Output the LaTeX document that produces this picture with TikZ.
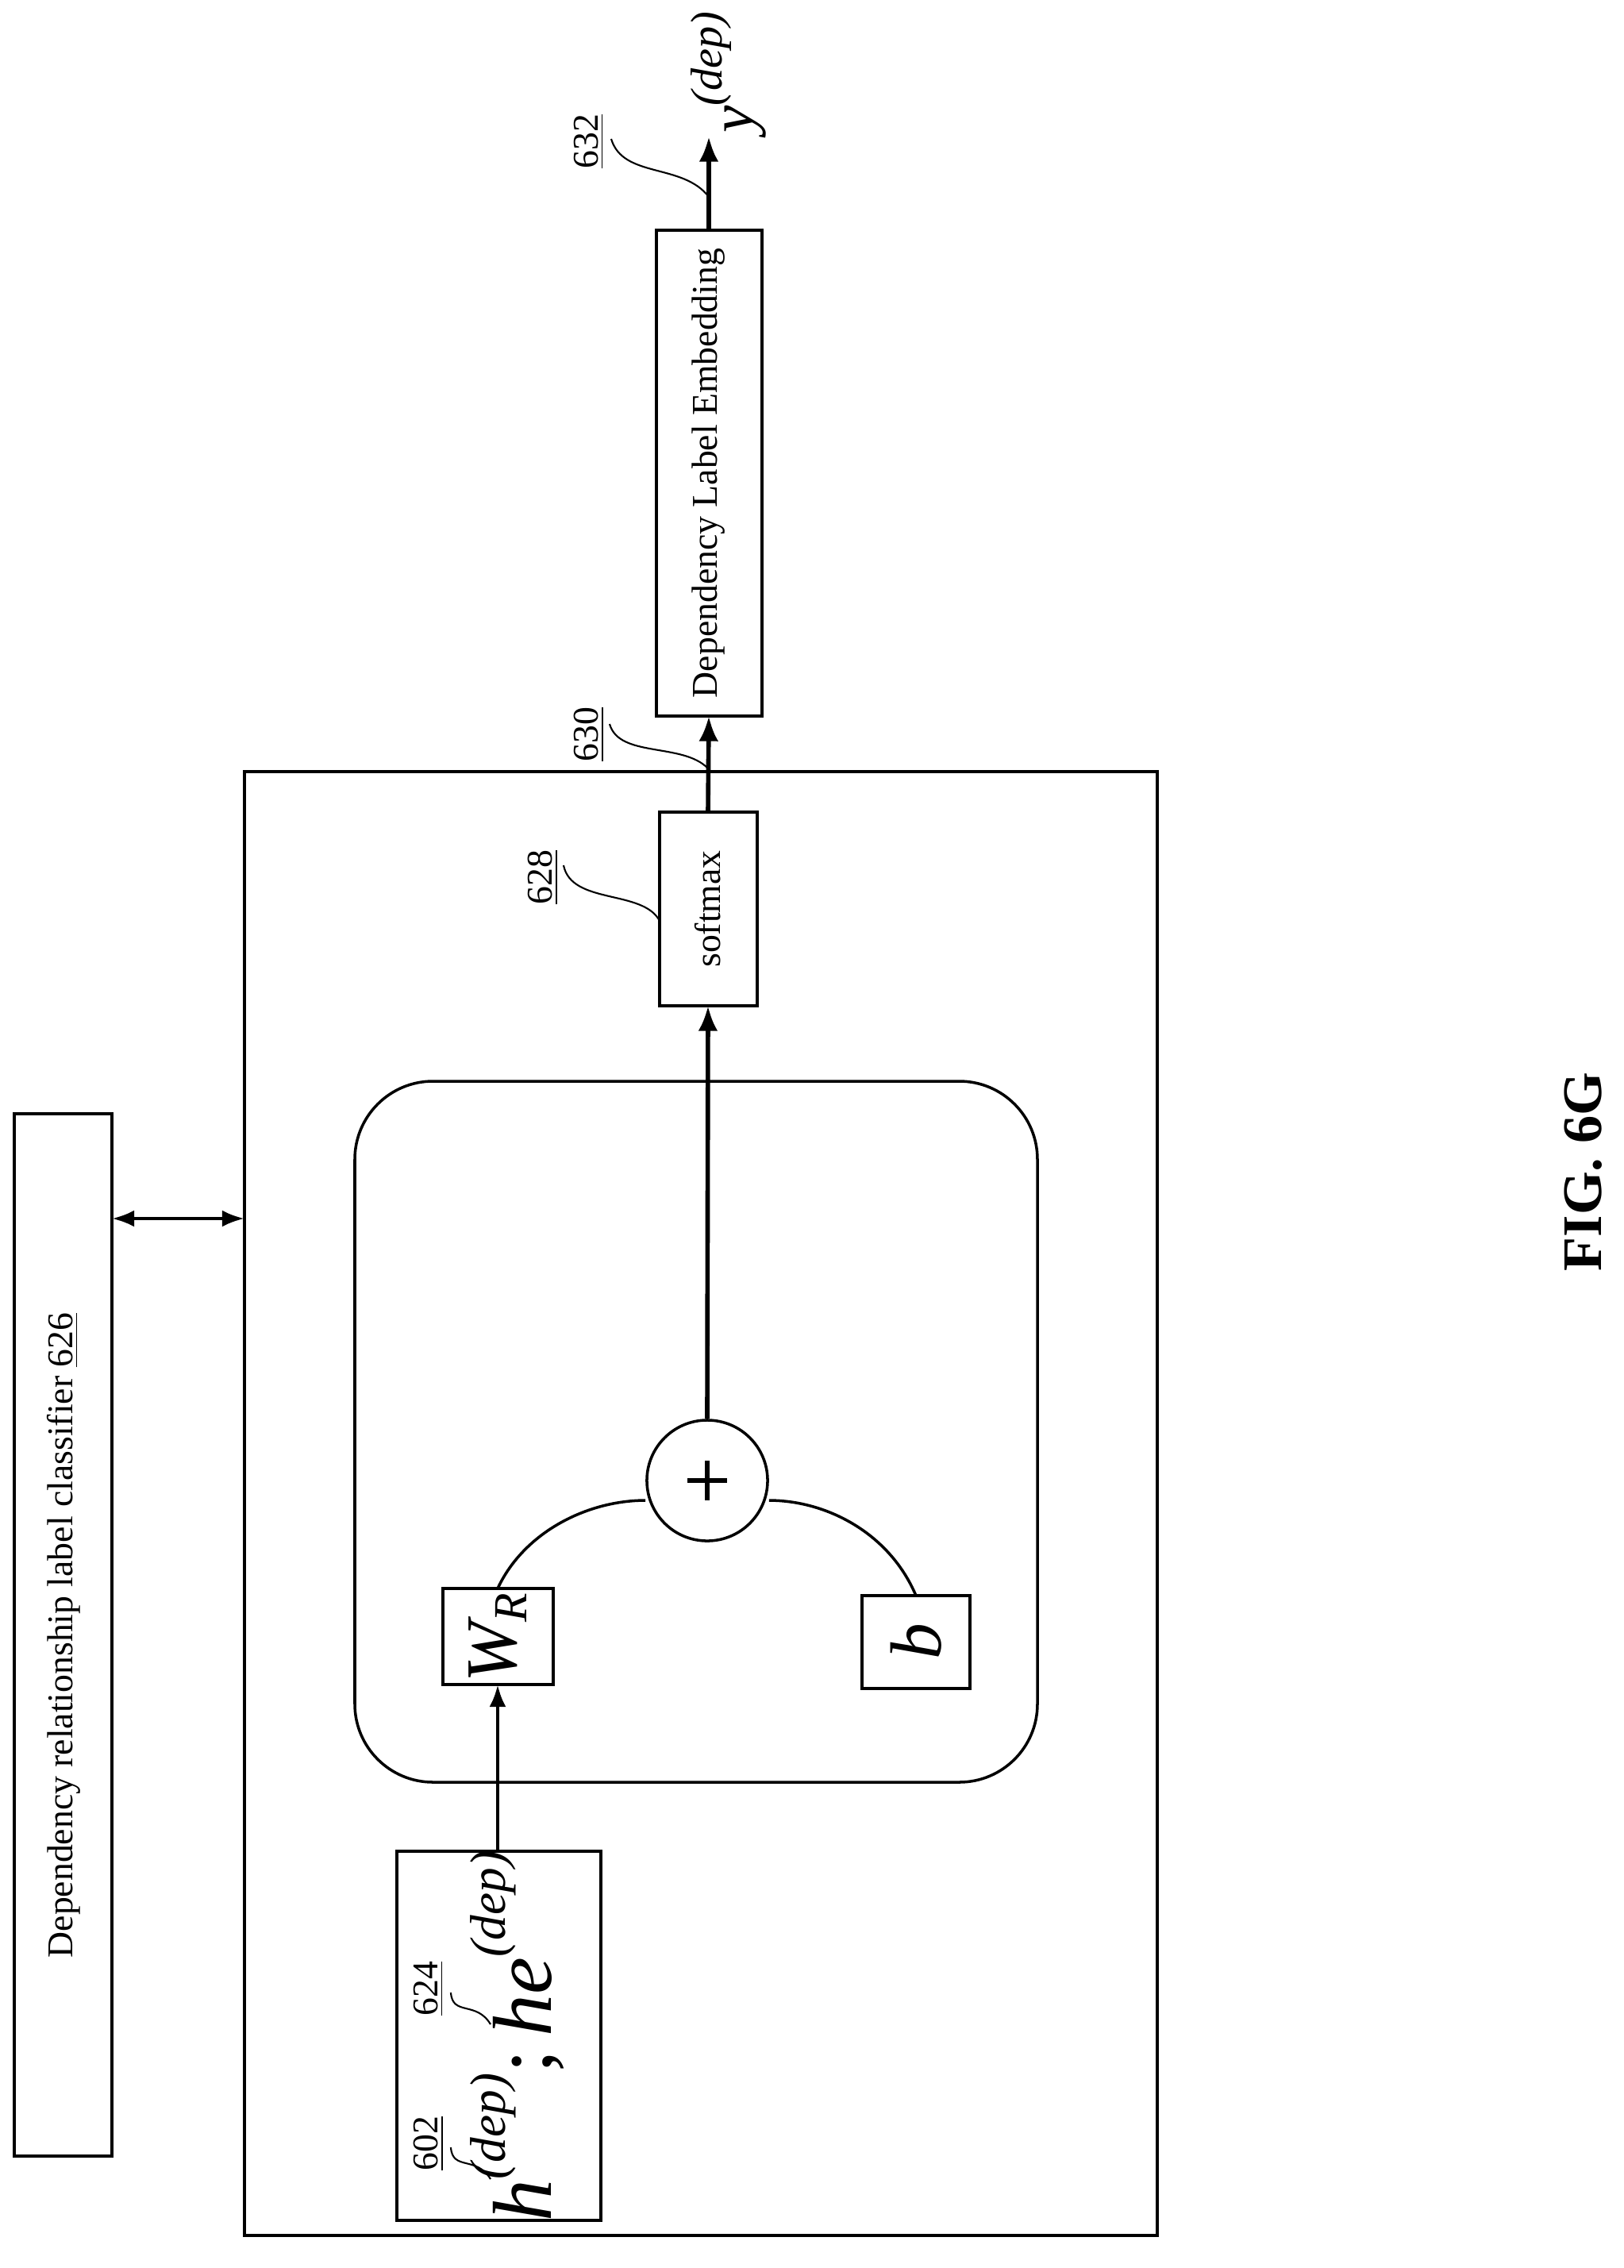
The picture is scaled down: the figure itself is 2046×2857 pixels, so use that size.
\documentclass[tikz,border=0pt]{standalone}
\usepackage{fontspec}
\setmainfont{Liberation Serif}
\usetikzlibrary{arrows.meta}
\newcommand{\mysup}[1]{\raisebox{0.55em}{\fontsize{18}{20}\selectfont\itshape #1}}
\begin{document}
\begin{tikzpicture}[x=0.01cm,y=-0.01cm,
  box/.style={draw,line width=1pt},
  lbl/.style={rotate=90,font=\fontsize{13}{15}\selectfont},
  ref/.style={rotate=90,font=\fontsize{13}{15}\selectfont},
  lead/.style={line width=0.6pt},
  flow/.style={line width=1.6pt,-{Latex[length=9pt,width=7pt]}}]
\useasboundingbox (0,0) rectangle (2046,2857);
% classifier
\draw[box] (18,1403) rectangle (141,2716);
\node[lbl] (cls) at (80,2060) {Dependency relationship label classifier \underline{626}};
\coordinate (clsR) at (141,1535);
% outer box
\draw[box] (308,972) rectangle (1458,2816);
\coordinate (outL) at (308,1535);
\draw[line width=1.3pt,{Latex[length=8pt,width=6pt]}-{Latex[length=8pt,width=6pt]}] (clsR) -- (outL);
% inner rounded box
\draw[box,rounded corners=28] (447,1362) rectangle (1307,2245);
% input box
\draw[box] (500,2332) rectangle (757,2797);
\node[rotate=90,font=\fontsize{30}{32}\itshape] (in) at (652,2565) {h\mysup{(dep)}\upshape;\,\itshape he\mysup{(dep)}};
\node[ref] at (540,2700) {\underline{602}};
\node[ref] at (540,2505) {\underline{624}};
\draw[lead] (568,2705) .. controls (570,2735) and (600,2715) .. (618,2745);
\draw[lead] (568,2510) .. controls (570,2540) and (600,2520) .. (618,2550);
% W_R and b
\draw[box] (558,2001) rectangle (697,2122);
\node[rotate=90,font=\fontsize{26}{28}\selectfont] (W) at (627,2062) {\itshape W\textsubscript{\fontsize{17}{18}\selectfont R}};
\draw[box] (1086,2010) rectangle (1222,2127);
\node[rotate=90,font=\fontsize{26}{28}\itshape] (b) at (1154,2068) {b};
\coordinate (Wt) at (627,2001);
\coordinate (bt) at (1154,2010);
\coordinate (Wb) at (627,2122);
\coordinate (inT) at (627,2332);
\draw[line width=1.4pt,-{Latex[length=8pt,width=6pt]}] (inT) -- (Wb);
% plus circle
\node[draw,circle,line width=1pt,minimum size=1.52cm,inner sep=0] (plus) at (891,1865) {};
\draw[line width=1.5pt] (866,1865) -- (916,1865) (891,1840) -- (891,1890);
\draw[line width=1pt] (Wt) .. controls (660,1930) and (740,1890) .. ([yshift=-0.25cm]plus.west);
\draw[line width=1pt] (bt) .. controls (1120,1930) and (1040,1890) .. ([yshift=-0.25cm]plus.east);
% softmax
\draw[box] (831,1023) rectangle (954,1267);
\node[lbl] (sm) at (892,1145) {softmax};
\coordinate (smB) at (892,1267);
\coordinate (smT) at (892,1023);
\draw[flow] (plus.north) -- (smB);
% DLE
\draw[box] (827,290) rectangle (960,902);
\node[lbl] (dle) at (893,596) {Dependency Label Embedding};
\coordinate (dleB) at (893,902);
\coordinate (dleT) at (893,290);
\draw[flow] (smT) -- (dleB);
\coordinate (y) at (893,172);
\draw[flow] (dleT) -- (y);
\node[rotate=90,font=\fontsize{22}{24}\itshape,anchor=west] at (918,180) {y\raisebox{0.5em}{\fontsize{16}{18}\selectfont(dep)}};
% refs
\node[ref] at (742,178) {\underline{632}};
\draw[lead] (770,175) .. controls (785,225) and (860,205) .. (893,248);
\node[ref] at (742,925) {\underline{630}};
\draw[lead] (768,912) .. controls (780,955) and (860,935) .. (892,968);
\node[ref] at (684,1105) {\underline{628}};
\draw[lead] (710,1090) .. controls (720,1140) and (810,1120) .. (831,1160);
% fig label
\node[rotate=90,font=\fontsize{20}{22}\bfseries] at (1995,1476) {FIG. 6G};
\end{tikzpicture}
\end{document}
